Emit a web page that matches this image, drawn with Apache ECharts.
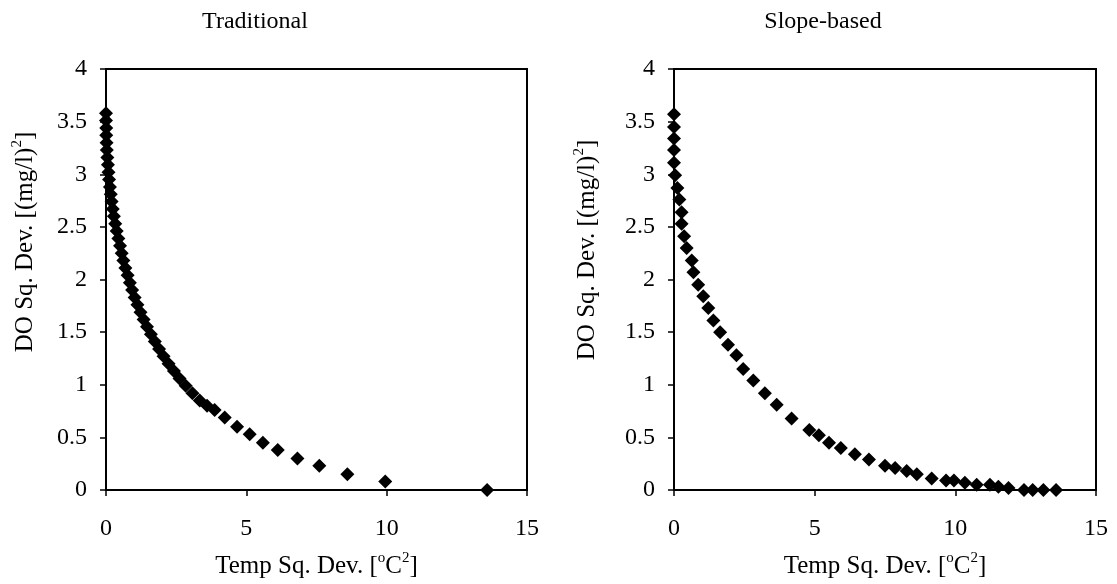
<!DOCTYPE html>
<html>
<head>
<meta charset="utf-8">
<script src="https://cdn.jsdelivr.net/npm/echarts@6/dist/echarts.min.js"></script>
<style>
  html, body { margin: 0; padding: 0; background: #fff; }
  #chart { width: 1117px; height: 584px; }
</style>
</head>
<body>
<div id="chart"></div>
<script>
// Traditional: temp sq. dev. (x) vs DO sq. dev. (y)
const tradX = [0.00, 0.00, 0.01, 0.01, 0.02, 0.03, 0.05, 0.07, 0.09, 0.11, 0.14, 0.17, 0.20, 0.24, 0.28, 0.33, 0.38, 0.44, 0.50, 0.56, 0.62, 0.69, 0.77, 0.85, 0.93, 1.02, 1.12, 1.23, 1.34, 1.46, 1.60, 1.74, 1.89, 2.05, 2.23, 2.42, 2.62, 2.84, 3.08, 3.34, 3.60, 3.87, 4.23, 4.67, 5.12, 5.59, 6.12, 6.82, 7.60, 8.60, 9.95, 13.58];
const tradY = [3.58, 3.51, 3.44, 3.37, 3.30, 3.23, 3.16, 3.09, 3.02, 2.95, 2.88, 2.81, 2.74, 2.67, 2.60, 2.53, 2.46, 2.39, 2.32, 2.25, 2.18, 2.11, 2.04, 1.97, 1.90, 1.83, 1.76, 1.69, 1.62, 1.55, 1.48, 1.41, 1.34, 1.27, 1.20, 1.13, 1.06, 0.99, 0.92, 0.85, 0.80, 0.76, 0.69, 0.60, 0.53, 0.45, 0.38, 0.30, 0.23, 0.15, 0.08, 0.00];

// Slope-based
const slopeX = [0.00, 0.00, 0.00, 0.00, 0.00, 0.04, 0.12, 0.19, 0.27, 0.27, 0.36, 0.45, 0.63, 0.69, 0.86, 1.04, 1.22, 1.40, 1.64, 1.92, 2.22, 2.46, 2.82, 3.23, 3.65, 4.18, 4.81, 5.15, 5.51, 5.93, 6.43, 6.93, 7.50, 7.86, 8.27, 8.63, 9.16, 9.67, 9.95, 10.34, 10.76, 11.23, 11.53, 11.89, 12.44, 12.75, 13.13, 13.58];
const slopeY = [3.57, 3.45, 3.34, 3.23, 3.11, 2.99, 2.87, 2.76, 2.64, 2.53, 2.41, 2.30, 2.18, 2.07, 1.95, 1.84, 1.73, 1.61, 1.50, 1.38, 1.28, 1.15, 1.04, 0.92, 0.81, 0.68, 0.57, 0.52, 0.45, 0.40, 0.34, 0.29, 0.23, 0.21, 0.18, 0.15, 0.11, 0.09, 0.09, 0.07, 0.05, 0.05, 0.03, 0.02, 0.00, 0.00, 0.00, 0.00];

const panelTitles = ['Traditional', 'Slope-based'];
const xName = 'Temp Sq. Dev. [{sup|o}C{sup|2}]';
const yName = 'DO Sq. Dev. [(mg/l){sup|2}]';

const font = 'Liberation Serif';
const fs = 24;
const nameFs = 25;
const rich = {
  sup: { fontFamily: font, fontSize: 15, color: '#000', lineHeight: 15, verticalAlign: 'bottom', padding: [0, 0, 13, 0] }
};

const chart = echarts.init(document.getElementById('chart'));

const grids = [
  { left: 106, right: 590, top: 69, bottom: 92 },
  { left: 674, right: 21, top: 69, bottom: 92 }
];

function xAxisFor(i) {
  return {
    gridIndex: i, type: 'value', min: 0, max: 15, interval: 5,
    name: xName, nameLocation: 'middle', nameGap: 64,
    nameTextStyle: { fontFamily: font, fontSize: nameFs, color: '#000', rich: rich },
    axisLine: { show: true, lineStyle: { color: '#000', width: 2 } },
    axisTick: { show: true, inside: false, length: 6, lineStyle: { color: '#000', width: 1.5 } },
    axisLabel: { fontFamily: font, fontSize: fs, color: '#000', margin: 27 },
    splitLine: { show: false }
  };
}

function yAxisFor(i) {
  return {
    gridIndex: i, type: 'value', min: 0, max: 4, interval: 0.5,
    axisLine: { show: true, lineStyle: { color: '#000', width: 2 } },
    axisTick: { show: true, inside: false, length: 6, lineStyle: { color: '#000', width: 1.5 } },
    axisLabel: { fontFamily: font, fontSize: fs, color: '#000', margin: 19 },
    splitLine: { show: false }
  };
}

chart.setOption({
  backgroundColor: '#fff',
  animation: false,
  title: [
    { text: panelTitles[0], left: 250, top: 5, textAlign: 'center',
      textStyle: { fontFamily: font, fontSize: fs, fontWeight: 'normal', color: '#000' } },
    { text: panelTitles[1], left: 818, top: 5, textAlign: 'center',
      textStyle: { fontFamily: font, fontSize: fs, fontWeight: 'normal', color: '#000' } }
  ],
  grid: grids.map(g => Object.assign({ show: true, borderColor: '#000', borderWidth: 2, backgroundColor: 'transparent' }, g)),
  xAxis: [xAxisFor(0), xAxisFor(1)],
  yAxis: [yAxisFor(0), yAxisFor(1)],
  graphic: [
    { type: 'text', x: 25, y: 242, rotation: Math.PI / 2,
      style: { text: yName, rich: rich, fontFamily: font, fontSize: nameFs, fill: '#000', align: 'center', verticalAlign: 'middle' } },
    { type: 'text', x: 587, y: 250, rotation: Math.PI / 2,
      style: { text: yName, rich: rich, fontFamily: font, fontSize: nameFs, fill: '#000', align: 'center', verticalAlign: 'middle' } }
  ],
  series: [
    { type: 'scatter', xAxisIndex: 0, yAxisIndex: 0, symbol: 'diamond', symbolSize: 14,
      itemStyle: { color: '#000', opacity: 1 },
      data: tradX.map((x, i) => [x, tradY[i]]) },
    { type: 'scatter', xAxisIndex: 1, yAxisIndex: 1, symbol: 'diamond', symbolSize: 14,
      itemStyle: { color: '#000', opacity: 1 },
      data: slopeX.map((x, i) => [x, slopeY[i]]) }
  ]
});
</script>
</body>
</html>
